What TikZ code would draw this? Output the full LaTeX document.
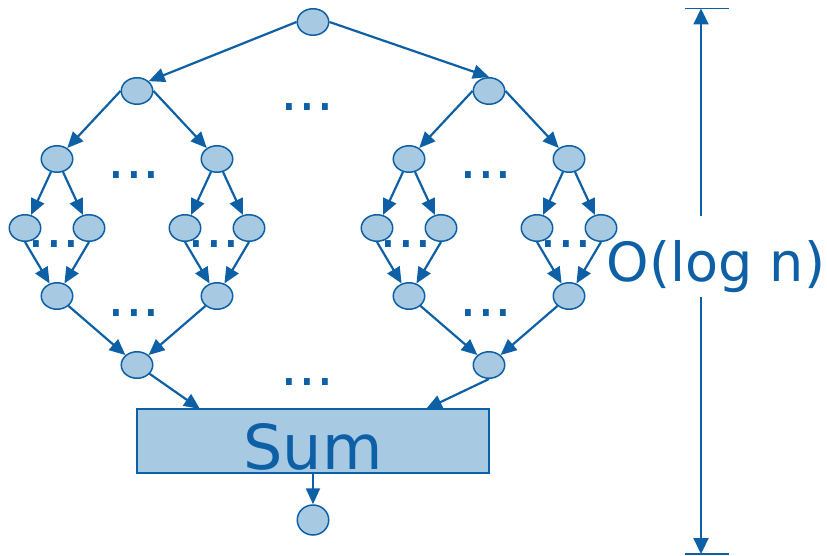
\documentclass[tikz,border=0pt]{standalone}
\usepackage{fontspec}
\setmainfont{DejaVu Sans}
\usetikzlibrary{shapes.geometric,arrows.meta}
\definecolor{nodefill}{HTML}{A7CAE2}
\definecolor{ink}{HTML}{0D5FA6}
\begin{document}
\begin{tikzpicture}[x=1pt,y=-1pt,
  vert/.style={ellipse,draw=ink,fill=nodefill,line width=1.5pt,
    minimum width=31.5pt,minimum height=26.5pt,inner sep=0pt},
  edge/.style={draw=ink,line width=2.2pt,-{Triangle[length=16pt,width=14pt]}},
  dimline/.style={draw=ink,line width=2.2pt,-{Triangle[length=16pt,width=15pt]}},
  dimbar/.style={draw=ink,line width=1.5pt},
  dots/.style={text=ink,font=\fontsize{56}{56}\selectfont,inner sep=0pt,anchor=base},
]
\useasboundingbox (0,0) rectangle (827,556);

% root and first split
\node[vert] (r) at (313,22) {};
\node[vert] (a) at (137,91) {};
\node[vert] (b) at (489,91) {};

% second level
\node[vert] (a1) at (57,159) {};
\node[vert] (a2) at (217,159) {};
\node[vert] (b1) at (409,159) {};
\node[vert] (b2) at (569,159) {};

% leaves
\node[vert] (a11) at (25,228) {};
\node[vert] (a12) at (89,228) {};
\node[vert] (a21) at (185,228) {};
\node[vert] (a22) at (249,228) {};
\node[vert] (b11) at (377,228) {};
\node[vert] (b12) at (441,228) {};
\node[vert] (b21) at (537,228) {};
\node[vert] (b22) at (601,228) {};

% merging levels
\node[vert] (c1) at (57,296) {};
\node[vert] (c2) at (217,296) {};
\node[vert] (d1) at (409,296) {};
\node[vert] (d2) at (569,296) {};
\node[vert] (c) at (137,365) {};
\node[vert] (d) at (489,365) {};

% reduction box and result
\node[draw=ink,fill=nodefill,line width=1.5pt,minimum width=352pt,minimum height=64pt,
  inner sep=0pt,text=ink,font=\fontsize{62}{62}\selectfont,text height=56pt,text depth=0pt]
  (sum) at (313,441) {Sum};
\node[vert,minimum height=30pt] (out) at (313,520) {};
\coordinate (inL) at (200,409);
\coordinate (inR) at (426,409);

% edges
\draw[edge] (r.west) -- (a.40);
\draw[edge] (r.east) -- (b.north);
\draw[edge] (a.west) -- (a1);
\draw[edge] (a.east) -- (a2);
\draw[edge] (b.west) -- (b1);
\draw[edge] (b.east) -- (b2);
\draw[edge] (a1) -- (a11);
\draw[edge] (a1) -- (a12);
\draw[edge] (a2) -- (a21);
\draw[edge] (a2) -- (a22);
\draw[edge] (b1) -- (b11);
\draw[edge] (b1) -- (b12);
\draw[edge] (b2) -- (b21);
\draw[edge] (b2) -- (b22);
\draw[edge] (a11.south) -- (c1);
\draw[edge] (a12.south) -- (c1);
\draw[edge] (a21.south) -- (c2);
\draw[edge] (a22.south) -- (c2);
\draw[edge] (b11.south) -- (d1);
\draw[edge] (b12.south) -- (d1);
\draw[edge] (b21.south) -- (d2);
\draw[edge] (b22.south) -- (d2);
\draw[edge] (c1) -- (c);
\draw[edge] (c2) -- (c);
\draw[edge] (d1) -- (d);
\draw[edge] (d2) -- (d);
\draw[edge] (c) -- (inL);
\draw[edge] (d.south) -- (inR);
\draw[edge] (sum) -- (out);

% ellipsis marks
\node[dots] (e1) at (307.5,110.5) {...};
\node[dots] (e2) at (134,178.5) {...};
\node[dots] (e3) at (486,178.5) {...};
\node[dots] (e4) at (54,247.5) {...};
\node[dots] (e5) at (214,247.5) {...};
\node[dots] (e6) at (406,247.5) {...};
\node[dots] (e7) at (566,247.5) {...};
\node[dots] (e8) at (134,316.5) {...};
\node[dots] (e9) at (486,316.5) {...};
\node[dots] (e10) at (307.5,385.5) {...};

% depth dimension
\node[text=ink,font=\fontsize{54}{54}\selectfont,inner sep=0pt,anchor=base] (depth) at (716,281) {O(log n)};
\coordinate (topL) at (685,8.5);
\coordinate (topR) at (729,8.5);
\coordinate (botL) at (685,554);
\coordinate (botR) at (729,554);
\coordinate (gapT) at (701,216);
\coordinate (gapB) at (701,297);
\draw[dimbar] (topL) -- (topR);
\draw[dimbar] (botL) -- (botR);
\draw[dimline] (gapT) -- (gapT |- topL);
\draw[dimline] (gapB) -- (gapB |- botL);
\end{tikzpicture}
\end{document}
